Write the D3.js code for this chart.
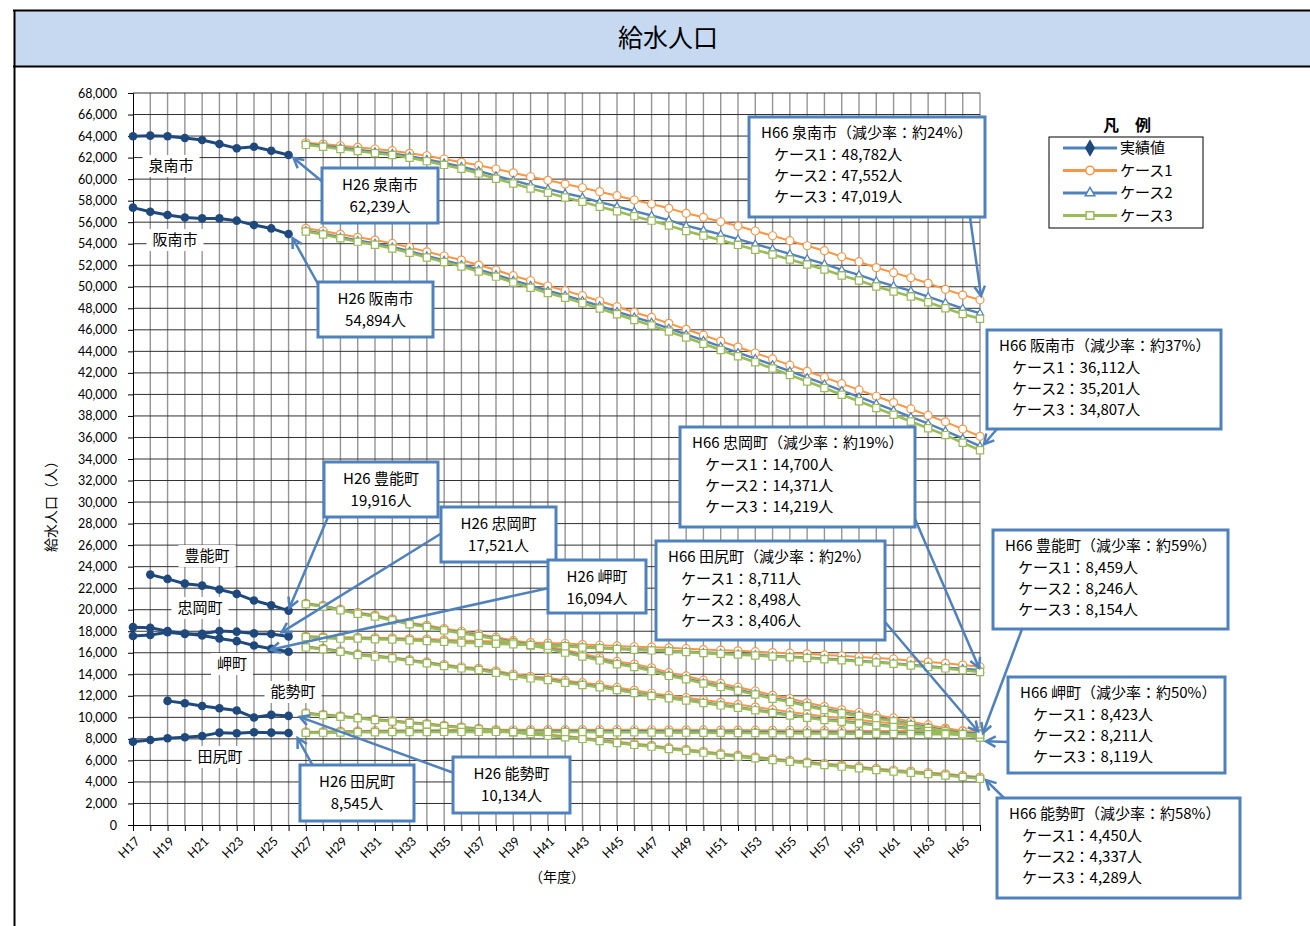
<!DOCTYPE html>
<html>
<head>
<meta charset="utf-8">
<script src="https://cdn.jsdelivr.net/npm/d3@7"></script>
<style>
  body { margin: 0; background: #fff; }
  svg { display: block; }
</style>
</head>
<body>
<svg id="chart" width="1310" height="926"></svg>
<script>
// ---------------- data ----------------
const categories = ["H17","H18","H19","H20","H21","H22","H23","H24","H25","H26",
  "H27","H28","H29","H30","H31","H32","H33","H34","H35","H36",
  "H37","H38","H39","H40","H41","H42","H43","H44","H45","H46",
  "H47","H48","H49","H50","H51","H52","H53","H54","H55","H56",
  "H57","H58","H59","H60","H61","H62","H63","H64","H65","H66"];
const xTickLabels = ["H17","H19","H21","H23","H25","H27","H29","H31","H33","H35","H37","H39","H41",
  "H43","H45","H47","H49","H51","H53","H55","H57","H59","H61","H63","H65"];
const yTicks = [0,2000,4000,6000,8000,10000,12000,14000,16000,18000,20000,22000,24000,26000,28000,30000,
  32000,34000,36000,38000,40000,42000,44000,46000,48000,50000,52000,54000,56000,58000,60000,62000,64000,66000,68000];

const actualYears = ["H17","H18","H19","H20","H21","H22","H23","H24","H25","H26"];
const projYears = ["H27","H28","H29","H30","H31","H32","H33","H34","H35","H36",
  "H37","H38","H39","H40","H41","H42","H43","H44","H45","H46",
  "H47","H48","H49","H50","H51","H52","H53","H54","H55","H56",
  "H57","H58","H59","H60","H61","H62","H63","H64","H65","H66"];

// 実績値 (H17–H26)
const sennanActual  = [63980,64040,63980,63820,63630,63260,62860,63010,62640,62239];
const hannanActual  = [57350,56970,56660,56440,56350,56350,56140,55730,55420,54894];
const toyonoActual  = [null,23260,22860,22420,22240,21870,21470,20850,20410,19916];
const tadaokaActual = [17560,17650,17900,17740,17760,18020,17960,17800,17740,17521];
const misakiActual  = [18380,18320,18010,17790,17610,17330,17080,16680,16370,16094];
const noseActual    = [null,null,11530,11310,11060,10850,10630,9980,10230,10134];
const tajiriActual  = [7740,7900,8060,8150,8270,8580,8520,8610,8580,8545];

// 推計 (H27–H66)
const sennanCase1 = [63380,63260,63100,62950,62800,62640,62400,62170,61870,61560,
  61280,60940,60590,60220,59890,59540,59200,58830,58460,58060,
  57690,57290,56820,56450,56040,55640,55180,54740,54280,53810,
  53350,52790,52330,51770,51310,50840,50320,49760,49230,48782];
const sennanCase2 = [63260,63110,62920,62730,62530,62380,62130,61840,61500,61160,
  60760,60300,59890,59450,59090,58690,58320,57870,57460,57020,
  56620,56190,55680,55270,54870,54420,53960,53520,53060,52590,
  52130,51570,51110,50550,50090,49620,49090,48530,48000,47552];
const sennanCase3 = [63180,63010,62800,62610,62400,62240,61980,61670,61320,60960,
  60530,60040,59590,59120,58740,58290,57900,57430,57010,56560,
  56140,55690,55170,54750,54340,53890,53430,52990,52530,52060,
  51600,51040,50580,50020,49560,49090,48560,48000,47470,47019];

const hannanCase1 = [55430,55180,54870,54590,54340,54030,53660,53250,52860,52480,
  52020,51560,51030,50560,50070,49640,49170,48680,48150,47630,
  47150,46600,46050,45500,44950,44400,43850,43300,42720,42150,
  41580,41000,40420,39830,39240,38650,38050,37450,36780,36112];
const hannanCase2 = [55210,54940,54600,54300,54030,53690,53300,52870,52450,52050,
  51590,51130,50590,50120,49630,49200,48720,48230,47700,47180,
  46690,46140,45580,45010,44450,43880,43320,42750,42160,41570,
  40970,40360,39760,39140,38530,37910,37290,36620,35920,35201];
const hannanCase3 = [55130,54850,54500,54190,53910,53560,53160,52720,52290,51880,
  51410,50940,50390,49910,49410,48970,48480,47980,47440,46910,
  46410,45850,45280,44700,44130,43550,42980,42400,41800,41200,
  40590,39970,39360,38730,38110,37480,36850,36220,35510,34807];

const toyonoCase1 = [20590,20400,20050,19750,19500,19150,18800,18550,18250,18000,
  17750,17450,17150,16900,16600,16250,15900,15550,15200,14950,
  14600,14150,13850,13450,13150,12800,12450,12050,11750,11350,
  11000,10700,10450,10200,9950,9600,9300,9000,8750,8459];
const toyonoCase2 = [20540,20340,19980,19670,19410,19050,18700,18440,18130,17870,
  17610,17310,17000,16740,16430,16070,15720,15360,15000,14740,
  14390,13930,13620,13220,12910,12560,12210,11810,11510,11110,
  10770,10470,10220,9970,9720,9380,9080,8790,8540,8246];
const toyonoCase3 = [20500,20300,19940,19630,19370,19010,18650,18390,18080,17820,
  17560,17250,16940,16680,16370,16010,15650,15290,14930,14670,
  14310,13850,13540,13140,12830,12480,12130,11730,11430,11030,
  10690,10390,10140,9890,9640,9300,9000,8700,8450,8154];

const tadaokaCase1 = [17550,17480,17430,17450,17400,17380,17320,17270,17200,17130,
  17100,17040,17000,16950,16900,16860,16760,16700,16640,16560,
  16520,16460,16380,16300,16240,16180,16100,16020,15960,15900,
  15800,15720,15610,15520,15420,15260,15140,15020,14860,14700];
const tadaokaCase2 = [17490,17410,17350,17360,17300,17270,17200,17140,17060,16980,
  16940,16870,16820,16770,16710,16660,16550,16480,16410,16320,
  16270,16200,16110,16020,15960,15890,15800,15710,15640,15570,
  15460,15370,15250,15150,15040,14880,14750,14620,14530,14371];
const tadaokaCase3 = [17450,17370,17310,17320,17260,17230,17160,17100,17020,16940,
  16900,16830,16780,16720,16660,16610,16500,16430,16360,16270,
  16220,16150,16060,15970,15900,15830,15740,15650,15580,15510,
  15400,15310,15190,15090,14980,14810,14680,14550,14380,14219];

const misakiCase1 = [16580,16410,16190,15890,15750,15590,15360,15150,14910,14700,
  14560,14320,14020,13810,13670,13430,13220,13020,12780,12510,
  12240,12040,11830,11610,11400,11190,10960,10720,10500,10290,
  10090,9920,9760,9600,9430,9230,9060,8880,8680,8423];
const misakiCase2 = [16540,16360,16140,15830,15680,15520,15290,15070,14820,14600,
  14450,14200,13890,13670,13520,13270,13050,12840,12590,12310,
  12040,11830,11620,11390,11170,10950,10720,10470,10240,10030,
  9830,9660,9500,9340,9170,8970,8800,8620,8430,8211];
const misakiCase3 = [16500,16320,16100,15790,15640,15480,15240,15020,14770,14550,
  14400,14150,13840,13620,13470,13220,13000,12790,12540,12260,
  11980,11770,11560,11330,11110,10890,10650,10400,10170,9960,
  9760,9590,9430,9270,9100,8900,8730,8550,8350,8119];

const noseCase1 = [10430,10280,10140,9990,9840,9700,9560,9420,9260,9130,
  8990,8850,8700,8550,8400,8260,8110,7910,7730,7560,
  7400,7180,7030,6850,6650,6490,6330,6180,6020,5870,
  5710,5570,5420,5260,5110,5000,4880,4750,4610,4450];
const noseCase2 = [10380,10230,10090,9940,9790,9650,9500,9360,9200,9070,
  8930,8780,8630,8480,8330,8180,8030,7830,7650,7470,
  7310,7090,6930,6750,6550,6390,6230,6080,5920,5770,
  5610,5460,5310,5150,5000,4890,4770,4640,4500,4337];
const noseCase3 = [10350,10200,10060,9910,9760,9620,9470,9330,9170,9040,
  8900,8750,8600,8450,8300,8150,8000,7800,7620,7440,
  7280,7060,6900,6720,6520,6350,6190,6040,5880,5730,
  5570,5420,5270,5110,4960,4850,4730,4600,4460,4289];

const tajiriCase1 = [8650,8680,8720,8740,8760,8780,8800,8810,8820,8830,
  8840,8850,8850,8860,8860,8860,8860,8860,8860,8850,
  8850,8840,8840,8830,8820,8820,8810,8800,8790,8780,
  8770,8760,8750,8740,8740,8730,8730,8720,8720,8711];
const tajiriCase2 = [8590,8620,8640,8660,8670,8690,8700,8710,8720,8720,
  8730,8730,8740,8740,8740,8740,8730,8730,8720,8720,
  8710,8700,8690,8680,8670,8660,8650,8640,8630,8620,
  8610,8600,8590,8580,8570,8560,8550,8530,8520,8498];
const tajiriCase3 = [8560,8580,8600,8610,8620,8630,8640,8640,8650,8650,
  8650,8650,8650,8650,8650,8640,8640,8630,8620,8610,
  8600,8590,8580,8570,8560,8550,8540,8530,8520,8510,
  8500,8490,8480,8470,8460,8450,8440,8430,8420,8406];

const townNames = ["泉南市","阪南市","豊能町","忠岡町","岬町","能勢町","田尻町"];
const reductionRates = [24, 37, 59, 19, 50, 58, 2];
const caseNames = ["ケース1","ケース2","ケース3"];

const towns = [
  { name: townNames[0], rate: reductionRates[0], actual: sennanActual,  cases: [sennanCase1, sennanCase2, sennanCase3] },
  { name: townNames[1], rate: reductionRates[1], actual: hannanActual,  cases: [hannanCase1, hannanCase2, hannanCase3] },
  { name: townNames[2], rate: reductionRates[2], actual: toyonoActual,  cases: [toyonoCase1, toyonoCase2, toyonoCase3] },
  { name: townNames[3], rate: reductionRates[3], actual: tadaokaActual, cases: [tadaokaCase1, tadaokaCase2, tadaokaCase3] },
  { name: townNames[4], rate: reductionRates[4], actual: misakiActual,  cases: [misakiCase1, misakiCase2, misakiCase3] },
  { name: townNames[5], rate: reductionRates[5], actual: noseActual,    cases: [noseCase1, noseCase2, noseCase3] },
  { name: townNames[6], rate: reductionRates[6], actual: tajiriActual,  cases: [tajiriCase1, tajiriCase2, tajiriCase3] }
];

// ---------------- styles ----------------
const FONT_JP = "'Noto Sans CJK JP', 'Noto Sans', sans-serif";
const FONT_NUM = "Lato, 'Open Sans', sans-serif";
const C_ACTUAL = "#1f497d";
const C_CASE = ["#f79646", "#4f81bd", "#9bbb59"];
const C_CALLOUT = "#4f81bd";

const svg = d3.select("#chart");

// ---------------- page frame & title ----------------
svg.append("rect").attr("x", 14).attr("y", 11).attr("width", 1300).attr("height", 55).attr("fill", "#c6d9f1");
svg.append("line").attr("x1", 13).attr("x2", 1310).attr("y1", 10.5).attr("y2", 10.5).attr("stroke", "#000").attr("stroke-width", 2);
svg.append("line").attr("x1", 13).attr("x2", 1310).attr("y1", 66.5).attr("y2", 66.5).attr("stroke", "#000").attr("stroke-width", 2);
svg.append("line").attr("x1", 14.5).attr("x2", 14.5).attr("y1", 10).attr("y2", 926).attr("stroke", "#000").attr("stroke-width", 2);
svg.append("text").attr("x", 668).attr("y", 47).attr("text-anchor", "middle")
  .attr("font-family", FONT_JP).attr("font-size", 25).attr("fill", "#000").text("給水人口");

// ---------------- scales ----------------
const x = d3.scalePoint().domain(categories).range([133, 980]);
const y = d3.scaleLinear().domain([0, 68000]).range([825, 93]);

// ---------------- grid ----------------
const grid = svg.append("g");
grid.selectAll("line.v").data(categories.slice(1)).join("line")
  .attr("x1", d => x(d)).attr("x2", d => x(d)).attr("y1", y(68000)).attr("y2", y(0))
  .attr("stroke", "#959595").attr("stroke-width", 1.4);
grid.selectAll("line.h").data(yTicks.filter(v => v > 0)).join("line")
  .attr("x1", x(categories[0])).attr("x2", x(categories[categories.length - 1]))
  .attr("y1", d => y(d)).attr("y2", d => y(d))
  .attr("stroke", "#303030").attr("stroke-width", 1);

// ---------------- axes ----------------
const yAxis = svg.append("g").attr("transform", `translate(${x(categories[0])},0)`)
  .call(d3.axisLeft(y).tickValues(yTicks).tickSize(5).tickPadding(11).tickFormat(d3.format(",")));
yAxis.select(".domain").attr("stroke", "#000");
yAxis.selectAll(".tick line").attr("stroke", "#000");
yAxis.selectAll("text").attr("font-family", FONT_NUM).attr("font-size", 12.5).attr("fill", "#000");

const xAxis = svg.append("g").attr("transform", `translate(0,${y(0)})`)
  .call(d3.axisBottom(x).tickValues(categories).tickSize(6)
    .tickFormat(d => xTickLabels.includes(d) ? d : ""));
xAxis.select(".domain").attr("stroke", "#000");
xAxis.selectAll(".tick line").attr("stroke", "#000");
xAxis.selectAll("text")
  .attr("font-family", FONT_NUM).attr("font-size", 12.5).attr("fill", "#000")
  .attr("text-anchor", "end").attr("x", 0).attr("y", 0).attr("dy", "0.35em")
  .attr("transform", "translate(4,14) rotate(-45)");

svg.append("text").attr("transform", "translate(56,503) rotate(-90)").attr("text-anchor", "middle")
  .attr("font-family", FONT_JP).attr("font-size", 14).attr("fill", "#000").text("給水人口（人）");
svg.append("text").attr("x", 557).attr("y", 882).attr("text-anchor", "middle")
  .attr("font-family", FONT_JP).attr("font-size", 14).attr("fill", "#000").text("（年度）");

// ---------------- series ----------------
const plot = svg.append("g");
const line = d3.line().defined(d => d.v != null).x(d => x(d.c)).y(d => y(d.v));

const caseSymbols = [d3.symbolCircle, d3.symbolTriangle, d3.symbolSquare];
const caseSymbolSize = [50, 22, 52];
const caseLineWidth = [2, 2.4, 2.6];

for (let k = 0; k < 3; k++) {
  towns.forEach(t => {
    const pts = projYears.map((c, i) => ({ c, v: t.cases[k][i] }));
    plot.append("path").datum(pts).attr("d", line).attr("fill", "none")
      .attr("stroke", C_CASE[k]).attr("stroke-width", caseLineWidth[k]);
    plot.append("g").selectAll("path").data(pts).join("path")
      .attr("transform", d => `translate(${x(d.c)},${y(d.v)})`)
      .attr("d", d3.symbol(caseSymbols[k], caseSymbolSize[k]))
      .attr("fill", "#fff").attr("stroke", C_CASE[k]).attr("stroke-width", 1.2);
  });
}

towns.forEach(t => {
  const pts = actualYears.map((c, i) => ({ c, v: t.actual[i] }));
  plot.append("path").datum(pts).attr("d", line).attr("fill", "none")
    .attr("stroke", C_ACTUAL).attr("stroke-width", 3);
  plot.append("g").selectAll("circle").data(pts.filter(d => d.v != null)).join("circle")
    .attr("cx", d => x(d.c)).attr("cy", d => y(d.v)).attr("r", 4.3).attr("fill", C_ACTUAL);
});

// ---------------- town name labels ----------------
const nameLabels = [
  { town: 0, x: 171, y: 166 },
  { town: 1, x: 175, y: 240 },
  { town: 2, x: 207, y: 556 },
  { town: 3, x: 200, y: 608 },
  { town: 4, x: 232, y: 664 },
  { town: 5, x: 293, y: 692 },
  { town: 6, x: 220, y: 757 }
];
nameLabels.forEach(l => {
  const label = townNames[l.town];
  const w = label.length * 15 + 12;
  svg.append("rect").attr("x", l.x - w / 2).attr("y", l.y - 11).attr("width", w).attr("height", 22).attr("fill", "#fff");
  svg.append("text").attr("x", l.x).attr("y", l.y).attr("dy", "0.35em").attr("text-anchor", "middle")
    .attr("font-family", FONT_JP).attr("font-size", 15).attr("fill", "#000").text(label);
});

// ---------------- callouts ----------------
const fmt = d3.format(",");
function h26Lines(ti) {
  const t = towns[ti];
  return ["H26 " + t.name, fmt(t.actual[t.actual.length - 1]) + "人"];
}
function h66Lines(ti) {
  const t = towns[ti];
  return ["H66 " + t.name + "（減少率：約" + t.rate + "%）"]
    .concat(t.cases.map((c, k) => caseNames[k] + "：" + fmt(c[c.length - 1]) + "人"));
}
const last = projYears.length - 1;
const callouts = [
  { kind: "h26", town: 0, box: [322, 168, 116, 55], from: [324, 183], target: ["H26", sennanActual[9]], off: [5, 3] },
  { kind: "h26", town: 1, box: [318, 282, 115, 55], from: [318, 284], target: ["H26", hannanActual[9]], off: [4, 4] },
  { kind: "h26", town: 2, box: [324, 462, 114, 55], from: [328, 517], target: ["H26", toyonoActual[9]], off: [1, -3] },
  { kind: "h26", town: 3, box: [441, 507, 115, 55], from: [442, 533], target: ["H26", tadaokaActual[9]], off: [-7, -4] },
  { kind: "h26", town: 4, box: [548, 560, 98, 53], from: [549, 588], target: ["H26", misakiActual[9]], off: [-18, -2] },
  { kind: "h26", town: 5, box: [453, 757, 117, 56], from: [454, 773], target: ["H26", noseActual[9]], off: [11, 1] },
  { kind: "h26", town: 6, box: [300, 765, 114, 56], from: [313, 766], target: ["H26", tajiriActual[9]], off: [9, 5] },
  { kind: "h66", town: 0, box: [749, 117, 236, 100], from: [970, 217], target: ["H66", sennanCase1[last]], off: [1, -4] },
  { kind: "h66", town: 1, box: [987, 330, 234, 99], from: [997, 429], target: ["H66", hannanCase1[last]], off: [4, 8] },
  { kind: "h66", town: 3, box: [680, 427, 235, 100], from: [912, 512], target: ["H66", tadaokaCase1[last]], off: [-1, 1] },
  { kind: "h66", town: 6, box: [656, 541, 229, 99], from: [885, 622], target: ["H66", tajiriCase1[last]], off: [-2, 0] },
  { kind: "h66", town: 2, box: [993, 530, 235, 99], from: [1022, 629], target: ["H66", toyonoCase1[last]], off: [3, -1] },
  { kind: "h66", town: 4, box: [1008, 677, 217, 96], from: [1008, 742], target: ["H66", misakiCase1[last]], off: [6, 7] },
  { kind: "h66", town: 5, box: [997, 798, 243, 100], from: [1005, 799], target: ["H66", noseCase1[last]], off: [6, 3] }
];

const arrows = svg.append("g");
callouts.forEach(c => {
  const tx = x(c.target[0]) + c.off[0];
  const ty = y(c.target[1]) + c.off[1];
  const [fx, fy] = c.from;
  const a = Math.atan2(ty - fy, tx - fx);
  const len = 11, spread = 0.5;
  arrows.append("line").attr("x1", fx).attr("y1", fy).attr("x2", tx).attr("y2", ty)
    .attr("stroke", C_CALLOUT).attr("stroke-width", 2.5);
  arrows.append("path")
    .attr("d", `M${tx - len * Math.cos(a - spread)},${ty - len * Math.sin(a - spread)}L${tx},${ty}L${tx - len * Math.cos(a + spread)},${ty - len * Math.sin(a + spread)}`)
    .attr("fill", "none").attr("stroke", C_CALLOUT).attr("stroke-width", 2.5).attr("stroke-linejoin", "miter");
});

const boxes = svg.append("g");
callouts.forEach(c => {
  const [bx, by, bw, bh] = c.box;
  boxes.append("rect").attr("x", bx).attr("y", by).attr("width", bw).attr("height", bh)
    .attr("fill", "#fff").attr("stroke", C_CALLOUT).attr("stroke-width", 3);
  if (c.kind === "h26") {
    const lines = h26Lines(c.town);
    lines.forEach((s, i) => {
      boxes.append("text").attr("x", bx + bw / 2).attr("y", by + 17 + i * 21.5).attr("dy", "0.35em")
        .attr("text-anchor", "middle").attr("font-family", FONT_JP).attr("font-size", 15).attr("fill", "#000").text(s);
    });
  } else {
    const lines = h66Lines(c.town);
    lines.forEach((s, i) => {
      boxes.append("text").attr("x", bx + (i === 0 ? 12 : 25)).attr("y", by + 16 + i * 21.3).attr("dy", "0.35em")
        .attr("font-family", FONT_JP).attr("font-size", 15).attr("fill", "#000").text(s);
    });
  }
});

// ---------------- legend ----------------
const legend = svg.append("g");
legend.append("text").attr("x", 1127).attr("y", 125).attr("dy", "0.35em").attr("text-anchor", "middle")
  .attr("font-family", FONT_JP).attr("font-size", 16).attr("font-weight", "bold").attr("fill", "#000").text("凡　例");
legend.append("rect").attr("x", 1049).attr("y", 137).attr("width", 154).attr("height", 91)
  .attr("fill", "#fff").attr("stroke", "#000").attr("stroke-width", 1);
const legendItems = [
  { label: "実績値", color: "#4f81bd", sym: d3.symbolDiamond, size: 60, fill: C_ACTUAL, stroke: C_ACTUAL },
  { label: caseNames[0], color: C_CASE[0], sym: d3.symbolCircle, size: 55, fill: "#fff", stroke: C_CASE[0] },
  { label: caseNames[1], color: C_CASE[1], sym: d3.symbolTriangle, size: 40, fill: "#fff", stroke: C_CASE[1] },
  { label: caseNames[2], color: C_CASE[2], sym: d3.symbolSquare, size: 60, fill: "#fff", stroke: C_CASE[2] }
];
legendItems.forEach((it, i) => {
  const ly = 148 + i * 22.5;
  legend.append("line").attr("x1", 1063).attr("x2", 1117).attr("y1", ly).attr("y2", ly)
    .attr("stroke", it.color).attr("stroke-width", 3);
  legend.append("path").attr("transform", `translate(1090,${ly})`).attr("d", d3.symbol(it.sym, it.size))
    .attr("fill", it.fill).attr("stroke", it.stroke).attr("stroke-width", 1.5);
  legend.append("text").attr("x", 1120).attr("y", ly).attr("dy", "0.35em")
    .attr("font-family", FONT_JP).attr("font-size", 15).attr("fill", "#000").text(it.label);
});
</script>
</body>
</html>
